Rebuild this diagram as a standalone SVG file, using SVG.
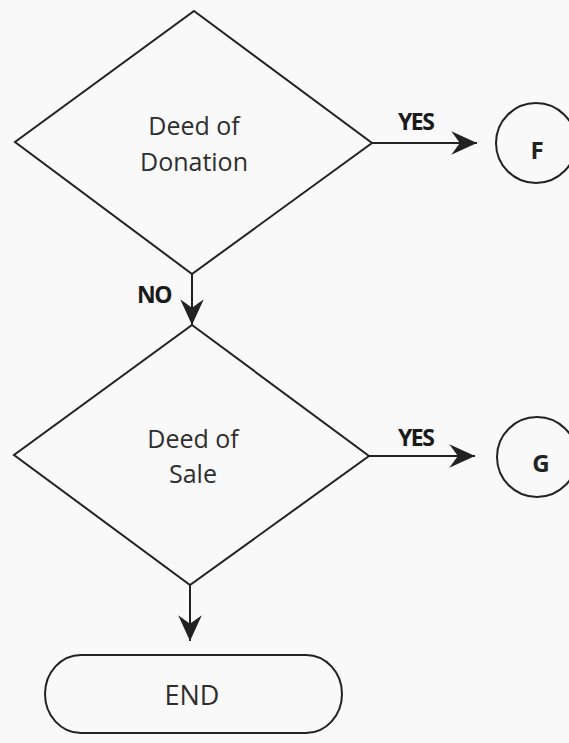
<svg xmlns="http://www.w3.org/2000/svg" width="569" height="743" viewBox="0 0 569 743">
<style>
  .shape { fill: none; stroke: #222; stroke-width: 2; }
  .conn { fill: none; stroke: #222; stroke-width: 2; marker-end: url(#arrow); }
  .txt { font-family: "Open Sans", "Liberation Sans", sans-serif; font-size: 25px; fill: #2e2e2e; text-anchor: middle; }
  .lbl { font-family: "Open Sans", "Liberation Sans", sans-serif; font-size: 23px; font-weight: bold; fill: #1a1a1a; letter-spacing: -1.5px; }
  .conn-txt { font-family: "Open Sans", "Liberation Sans", sans-serif; font-size: 24px; font-weight: bold; fill: #222; text-anchor: middle; }
</style>
<defs>
  <marker id="arrow" markerUnits="userSpaceOnUse" markerWidth="30" markerHeight="30" viewBox="-26 -13 28 26" refX="0" refY="0" orient="auto">
    <path d="M0,0 L-24,-11 L-16,0 L-24,11 Z" fill="#222"/>
  </marker>
</defs>
<rect width="569" height="743" fill="#f9f9f9"/>

<g id="connectors">
  <line class="conn" x1="372" y1="143" x2="477" y2="143"/>
  <line class="conn" x1="192" y1="274" x2="192" y2="325"/>
  <line class="conn" x1="369" y1="456" x2="475" y2="456"/>
  <line class="conn" x1="190" y1="585" x2="190" y2="641"/>
  <text class="lbl" x="398" y="130">YES</text>
  <text class="lbl" x="137" y="303">NO</text>
  <text class="lbl" x="398" y="446">YES</text>
</g>

<g id="deed-of-donation">
  <polygon class="shape" points="194,11 372,143 192,274 15,142"/>
  <text class="txt" x="194" y="135">Deed of</text>
  <text class="txt" x="194" y="171">Donation</text>
</g>

<g id="connector-f">
  <circle class="shape" cx="536" cy="143" r="40"/>
  <text class="conn-txt" x="537" y="159">F</text>
</g>

<g id="deed-of-sale">
  <polygon class="shape" points="192,325 369,456 190,585 14,455"/>
  <text class="txt" x="193" y="448">Deed of</text>
  <text class="txt" x="193" y="483">Sale</text>
</g>

<g id="connector-g">
  <circle class="shape" cx="537" cy="457" r="40"/>
  <text class="conn-txt" x="541" y="472">G</text>
</g>

<g id="end">
  <rect class="shape" x="45" y="655" width="297" height="78" rx="36" ry="39"/>
  <text class="txt" x="192" y="705" style="font-size:27px">END</text>
</g>
</svg>
